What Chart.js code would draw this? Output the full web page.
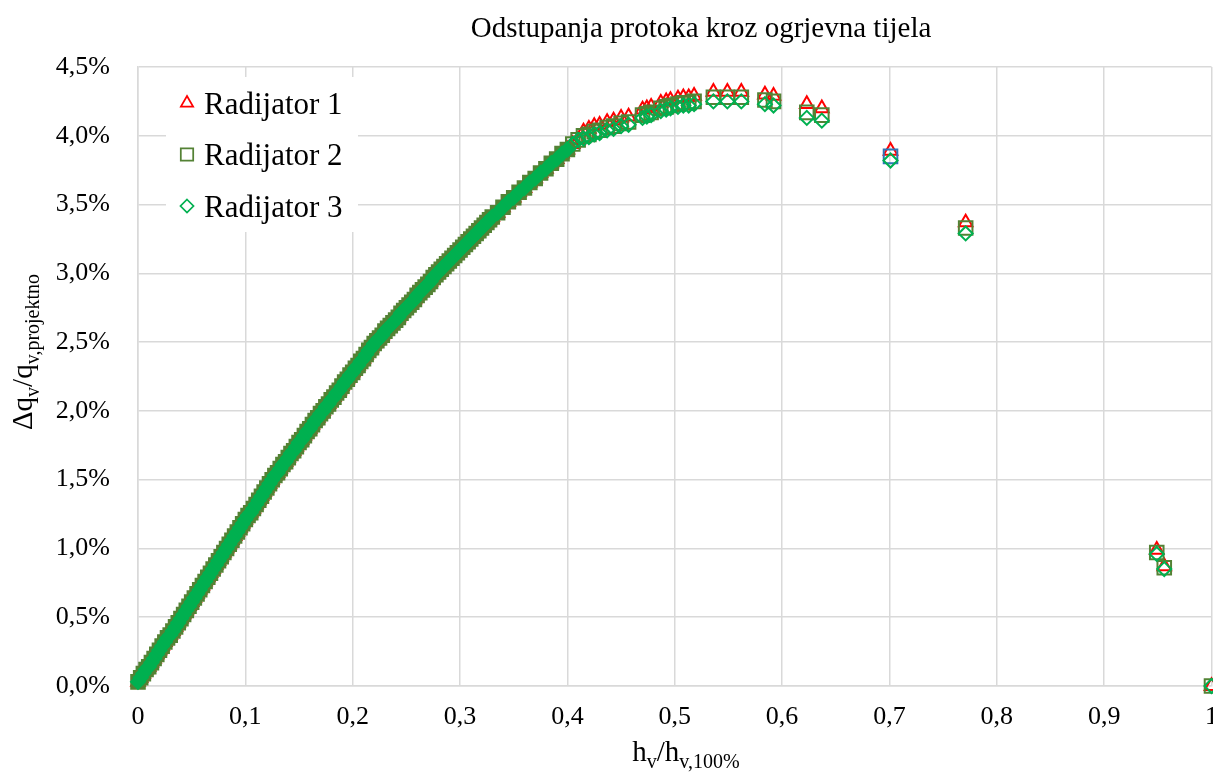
<!DOCTYPE html>
<html>
<head>
<meta charset="utf-8">
<script src="https://cdn.jsdelivr.net/npm/chart.js@4"></script>
<style>
    html, body { margin: 0; padding: 0; background: #fff; overflow: hidden; }
    #wrap { width: 1234px; height: 774px; position: relative; }
</style>
</head>
<body>
<div id="wrap"><canvas id="protokChart"></canvas></div>
<script>
// gusti dio krivulje (sva tri radijatora se preklapaju)
const hvGusto = [
    0, 0.0025, 0.005, 0.0075, 0.01, 0.0125, 0.015, 0.0175, 0.02, 0.0225,
    0.025, 0.0275, 0.03, 0.0325, 0.035, 0.0375, 0.04,
    0.0425, 0.045, 0.0475, 0.05, 0.0525, 0.055, 0.0575, 0.06, 0.0625,
    0.065, 0.0675, 0.07, 0.0725, 0.075, 0.0775, 0.08,
    0.0825, 0.085, 0.0875, 0.09, 0.0925, 0.095, 0.0975, 0.1, 0.1025,
    0.105, 0.1075, 0.11, 0.1125, 0.115, 0.1175, 0.12, 0.1225, 0.125,
    0.1275, 0.13, 0.1325, 0.135, 0.1375, 0.14, 0.1425, 0.145, 0.1475,
    0.15, 0.1525, 0.155, 0.1575, 0.16, 0.1625, 0.165, 0.1675, 0.17,
    0.1725, 0.175, 0.1775, 0.18, 0.1825, 0.185, 0.1875, 0.19, 0.1925,
    0.195, 0.1975, 0.2, 0.2025, 0.205, 0.2075, 0.21, 0.2125, 0.215, 0.2175, 0.22,
    0.2225, 0.225, 0.2275, 0.23, 0.2325, 0.235, 0.2375, 0.24, 0.2425,
    0.245, 0.2475, 0.25, 0.2525, 0.255, 0.2575, 0.26, 0.2625, 0.265,
    0.2675, 0.27, 0.2725, 0.275, 0.2775, 0.28,
    0.2825, 0.285, 0.2875, 0.29, 0.2925, 0.295, 0.2975, 0.3, 0.3025,
    0.305, 0.3075, 0.31, 0.3125, 0.315, 0.3175, 0.32, 0.3225, 0.325, 0.3275, 0.33,
    0.335, 0.34, 0.345, 0.35, 0.355, 0.36, 0.365, 0.37, 0.375, 0.38,
    0.385, 0.39, 0.395, 0.4, 0.405, 0.41
];
const dqGusto = [
    0.03, 0.06, 0.09, 0.12, 0.14, 0.17, 0.20, 0.23, 0.26, 0.29,
    0.32, 0.35, 0.37, 0.40, 0.43, 0.46, 0.49,
    0.52, 0.55, 0.58, 0.61, 0.64, 0.67, 0.70, 0.73, 0.76,
    0.79, 0.82, 0.85, 0.88, 0.91, 0.94, 0.97,
    1.00, 1.03, 1.06, 1.09, 1.12, 1.15, 1.18, 1.21, 1.24,
    1.26, 1.29, 1.32, 1.35, 1.38, 1.41, 1.44, 1.47, 1.50,
    1.53, 1.55, 1.58, 1.61, 1.63, 1.66, 1.69, 1.71, 1.74,
    1.77, 1.79, 1.82, 1.85, 1.87, 1.90, 1.93, 1.95, 1.98,
    2.00, 2.03, 2.05, 2.08, 2.10, 2.13, 2.15, 2.18, 2.21,
    2.23, 2.26, 2.28, 2.31, 2.33, 2.36, 2.38, 2.41, 2.44, 2.46, 2.49,
    2.51, 2.53, 2.55, 2.58, 2.60, 2.62, 2.64, 2.66, 2.68,
    2.71, 2.73, 2.75, 2.77, 2.79, 2.81, 2.84, 2.86, 2.88,
    2.90, 2.92, 2.94, 2.97, 2.99, 3.01,
    3.03, 3.05, 3.07, 3.09, 3.11, 3.13, 3.15, 3.17, 3.19,
    3.21, 3.23, 3.25, 3.27, 3.29, 3.31, 3.33, 3.35, 3.37, 3.39, 3.41,
    3.44, 3.48, 3.52, 3.55, 3.59, 3.62, 3.66, 3.69, 3.73, 3.76,
    3.80, 3.83, 3.87, 3.90, 3.94, 3.97
];

// rjeđe točke, posebno za svaki radijator
const hvRijetko = [
    0.415, 0.42, 0.425, 0.43, 0.437, 0.443, 0.45, 0.457, 0.47, 0.474,
    0.478, 0.487, 0.492, 0.496, 0.503, 0.508, 0.513, 0.518, 0.536, 0.549,
    0.562, 0.584, 0.592, 0.623, 0.637, 0.701, 0.771, 0.949, 0.956, 1.0
];
const dqRad1 = [
    4.03, 4.05, 4.07, 4.08, 4.10, 4.11, 4.13, 4.14, 4.19, 4.20,
    4.21, 4.24, 4.25, 4.26, 4.27, 4.28, 4.28, 4.29, 4.32, 4.32,
    4.32, 4.30, 4.29, 4.23, 4.20, 3.89, 3.37, 0.99, 0.87, 0.0
];
const dqRad2 = [
    4.00, 4.01, 4.03, 4.04, 4.06, 4.07, 4.09, 4.10, 4.15, 4.16,
    4.17, 4.20, 4.21, 4.22, 4.23, 4.24, 4.24, 4.25, 4.28, 4.28,
    4.28, 4.26, 4.25, 4.17, 4.15, 3.85, 3.33, 0.97, 0.86, 0.0
];
const dqRad3 = [
    3.98, 3.99, 4.01, 4.02, 4.04, 4.05, 4.07, 4.08, 4.13, 4.14,
    4.15, 4.18, 4.19, 4.20, 4.21, 4.22, 4.22, 4.23, 4.25, 4.25,
    4.25, 4.23, 4.22, 4.13, 4.11, 3.82, 3.29, 0.96, 0.85, 0.0
];

const nazivi = ['Radijator 1', 'Radijator 2', 'Radijator 3'];
const xTicks = [0, 0.1, 0.2, 0.3, 0.4, 0.5, 0.6, 0.7, 0.8, 0.9, 1];
const yTicks = [0, 0.5, 1.0, 1.5, 2.0, 2.5, 3.0, 3.5, 4.0, 4.5];

const CRVENA = '#FF0000';
const TAMNO_ZELENA = '#548235';
const ZELENA = '#00B050';
const PLAVA = '#2E75B6';
const SIVA = '#D9D9D9';
const FONT = "'Liberation Serif', 'Times New Roman', serif";

function tocke(dq) {
    const gusto = hvGusto.map((x, i) => ({ x: x, y: dqGusto[i] }));
    const rijetko = hvRijetko.map((x, i) => ({ x: x, y: dq[i] }));
    return gusto.concat(rijetko);
}

function ispuna(boja) {
    return ctx => (ctx.raw && ctx.raw.x < 0.405) ? boja : 'rgba(255,255,255,0)';
}

function zarez(v, dec) {
    return Number(v.toFixed(dec)).toString().replace('.', ',');
}

// naslov, naslovi osi s indeksima i legenda
const crtanjeTeksta = {
    id: 'crtanjeTeksta',
    afterDraw(chart) {
        const c = chart.ctx;
        c.save();
        c.fillStyle = '#000';
        c.textBaseline = 'alphabetic';

        c.font = '29px ' + FONT;
        c.textAlign = 'center';
        c.fillText('Odstupanja protoka kroz ogrjevna tijela', 701, 37);

        c.textAlign = 'left';
        function sIndeksom(dijelovi, cx, y) {
            let w = 0;
            dijelovi.forEach(d => { c.font = (d[1] ? '20px ' : '29px ') + FONT; w += c.measureText(d[0]).width; });
            let x = cx - w / 2;
            dijelovi.forEach(d => {
                c.font = (d[1] ? '20px ' : '29px ') + FONT;
                c.fillText(d[0], x, y + (d[1] ? 7 : 0));
                x += c.measureText(d[0]).width;
            });
        }
        sIndeksom([['h', 0], ['v', 1], ['/h', 0], ['v,100%', 1]], 686, 761);

        c.save();
        c.translate(32, 352);
        c.rotate(-Math.PI / 2);
        sIndeksom([['\u0394q', 0], ['v', 1], ['/q', 0], ['v,projektno', 1]], 0, 0);
        c.restore();

        // legenda
        c.fillStyle = '#fff';
        c.fillRect(166, 77, 192, 155);
        const boje = [CRVENA, TAMNO_ZELENA, ZELENA];
        const redovi = [103, 154.5, 206];
        c.lineWidth = 1.75;
        redovi.forEach((y, i) => {
            const x = 187;
            c.strokeStyle = boje[i];
            c.beginPath();
            if (i === 0) {
                c.moveTo(x, y - 7);
                c.lineTo(x + 6.1, y + 3.5);
                c.lineTo(x - 6.1, y + 3.5);
                c.closePath();
            } else if (i === 1) {
                c.rect(x - 6.2, y - 6.2, 12.4, 12.4);
            } else {
                c.moveTo(x, y - 6.5);
                c.lineTo(x + 6.5, y);
                c.lineTo(x, y + 6.5);
                c.lineTo(x - 6.5, y);
                c.closePath();
            }
            c.stroke();
            c.fillStyle = '#000';
            c.font = '31px ' + FONT;
            c.fillText(nazivi[i], 204, y + 10.5);
        });
        c.restore();
    }
};

const ctx = document.getElementById('protokChart').getContext('2d');
const protokChart = new Chart(ctx, {
    type: 'scatter',
    data: {
        datasets: [
            {
                label: nazivi[0],
                data: tocke(dqRad1),
                pointStyle: 'triangle',
                pointRadius: 7.8,
                borderColor: CRVENA,
                backgroundColor: 'rgba(255,255,255,0)',
                borderWidth: 2,
                order: 3,
                clip: false
            },
            {
                label: nazivi[1],
                data: tocke(dqRad2),
                pointStyle: 'rect',
                pointRadius: 9.6,
                borderColor: ctx => (ctx.raw && ctx.raw.x === 0.701) ? PLAVA : TAMNO_ZELENA,
                backgroundColor: ispuna(TAMNO_ZELENA),
                borderWidth: 2,
                order: 2,
                clip: false
            },
            {
                label: nazivi[2],
                data: tocke(dqRad3),
                pointStyle: 'rectRot',
                pointRadius: 7,
                borderColor: ZELENA,
                backgroundColor: ispuna(ZELENA),
                borderWidth: 2,
                order: 1,
                clip: false
            }
        ]
    },
    options: {
        responsive: true,
        maintainAspectRatio: false,
        animation: false,
        events: [],
        layout: {
            autoPadding: false,
            padding: { top: 67, right: 2, left: 0, bottom: 0 }
        },
        plugins: {
            legend: { display: false },
            title: { display: false },
            tooltip: { enabled: false }
        },
        scales: {
            x: {
                type: 'linear',
                min: 0,
                max: 1,
                afterFit: s => { s.height = 88; },
                afterBuildTicks: s => { s.ticks = xTicks.map(v => ({ value: v })); },
                grid: { color: SIVA, lineWidth: 1.5, drawTicks: false },
                border: { color: SIVA, width: 1.5 },
                ticks: {
                    padding: 16,
                    color: '#000',
                    font: { family: FONT, size: 26 },
                    callback: v => zarez(v, 1)
                }
            },
            y: {
                type: 'linear',
                min: 0,
                max: 4.5,
                afterFit: s => { s.width = 138; },
                afterBuildTicks: s => { s.ticks = yTicks.map(v => ({ value: v })); },
                grid: { color: SIVA, lineWidth: 1.5, drawTicks: false },
                border: { color: SIVA, width: 1.5 },
                ticks: {
                    padding: 28,
                    color: '#000',
                    font: { family: FONT, size: 26 },
                    callback: v => v.toFixed(1).replace('.', ',') + '%'
                }
            }
        }
    },
    plugins: [crtanjeTeksta]
});
</script>
</body>
</html>
